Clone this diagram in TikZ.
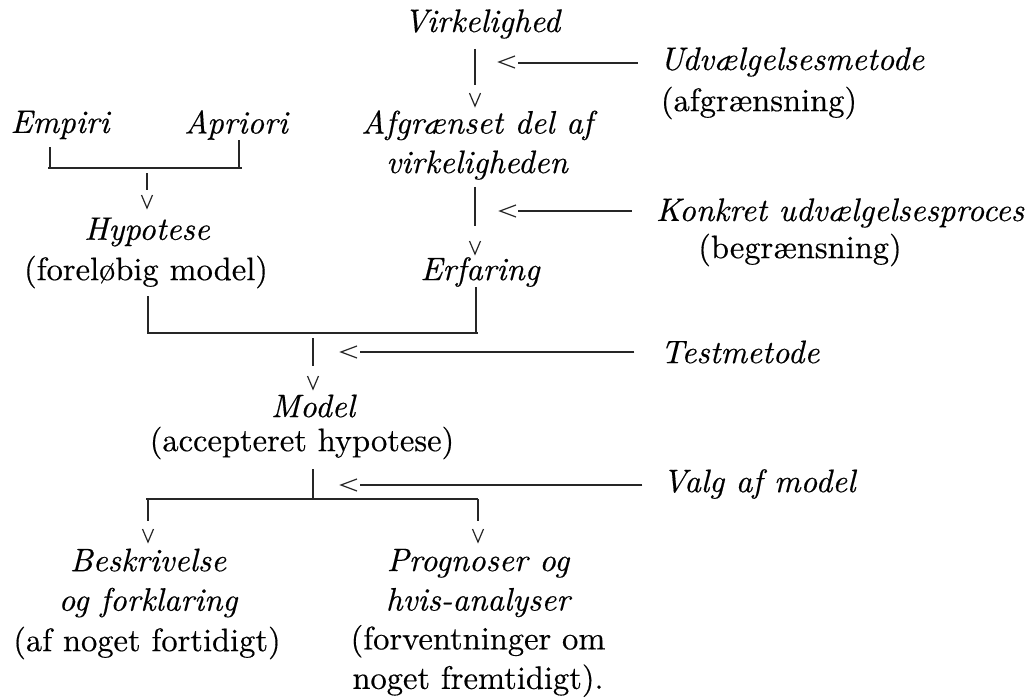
\documentclass[tikz,border=0pt]{standalone}
\usepackage{fontspec}
\setmainfont{lmroman10-regular.otf}[ItalicFont=lmroman10-italic.otf, FakeBold=0.4]
\usetikzlibrary{calc}
\begin{document}
\begin{tikzpicture}[x=1pt,y=-1pt,
  rm/.style={inner sep=0pt, align=center, font=\fontsize{32.5}{39.5}\selectfont},
  it/.style={inner sep=0pt, align=center, font=\fontsize{32.5}{39.5}\selectfont\itshape},
  ln/.style={line width=1.2pt, black!85},
  br/.style={line width=1.5pt, black!85},
  hd/.style={line width=1.2pt, black!85}]
\useasboundingbox (0,0) rectangle (1026,699);
\fill[white] (0,0) rectangle (1026,699);
% texts
\node[it] (virk) at (482,24) {Virkelighed};
\node[it] (udv) at (792,62) {Udvælgelsesmetode};
\node[rm] (afgr) at (759,103) {(afgrænsning)};
\node[it] (emp) at (60,125) {Empiri};
\node[it] (apr) at (236,125) {Apriori};
\node[it] (afg) at (477,145) {Afgrænset del af\\virkeligheden};
\node[it] (konk) at (840,213) {Konkret udvælgelsesproces};
\node[rm] (begr) at (800,250) {(begrænsning)};
\node[it] (hyp) at (147,232) {Hypotese};
\node[rm] (hypn) at (146,272) {(foreløbig model)};
\node[it] (erf) at (480,272) {Erfaring};
\node[it] (test) at (740,352) {Testmetode};
\node[it] (model) at (313,406) {Model};
\node[rm] (acc) at (302,443) {(accepteret hypotese)};
\node[it] (valg) at (759,484) {Valg af model};
\node[it] (besk) at (148,583) {Beskrivelse\\og forklaring};
\node[rm] (beskn) at (147,643) {(af noget fortidigt)};
\node[it] (prog) at (478,583) {Prognoser og\\hvis-analyser};
\node[rm] (progn) at (478,661) {(forventninger om\\noget fremtidigt).};

% arrow Virkelighed -> Afgraenset
\draw[ln] (virk.south -| 475,0) ++(0,10) -- (475,85);
\coordinate (t1) at (afg.north -| 475,0);
\draw[hd] (t1) ++(0,-4) coordinate (t1) +(-5.5,-13) -- (t1) -- +(5.5,-13);
% side arrow Udvaelgelsesmetode
\coordinate (s1) at (499,62);
\draw[ln] (udv.west |- 0,63) ++(-22,0) -- (518,63);
\draw[hd] (s1) +(16,-6) -- (s1) -- +(16,6);

% bracket Empiri / Apriori -> Hypotese
\draw[br] (emp.south -| 50,0) ++(0,8) -- (50,168) -- (239,168) -- (apr.south -| 239,0) ++(0,8);
\draw[br] (48,168) -- (242,168);
\draw[ln] (hyp.north |- 0,173) -- (hyp.north |- 0,190);
\coordinate (t2) at (hyp.north |- 0,208);
\draw[hd] (t2) +(-5.5,-13) -- (t2) -- +(5.5,-13);

% arrow Afgraenset -> Erfaring
\draw[ln] (afg.south -| 475,0) ++(0,7) -- (475,226);
\coordinate (t3) at (erf.north -| 475,0);
\draw[hd] (t3) ++(0,-3) coordinate (t3) +(-5.5,-13) -- (t3) -- +(5.5,-13);
% side arrow Konkret
\coordinate (s2) at (500,211);
\draw[ln] (konk.west |- 0,211) ++(-24,0) -- (518,211);
\draw[hd] (s2) +(16,-6) -- (s2) -- +(16,6);

% bracket Hypotese / Erfaring -> Model
\draw[br] (hypn.south -| 148,0) ++(0,8) -- (148,333) -- (476,333) -- (erf.south -| 476,0) ++(0,8);
\draw[br] (147,333) -- (478,333);
\draw[ln] (model.north |- 0,338) -- (model.north |- 0,366);
\coordinate (t4) at (model.north |- 0,389);
\draw[hd] (t4) +(-5.5,-13) -- (t4) -- +(5.5,-13);
% side arrow Testmetode
\coordinate (s3) at (341,352);
\draw[ln] (test.west |- 0,352) ++(-26,0) -- (360,352);
\draw[hd] (s3) +(16,-6) -- (s3) -- +(16,6);

% Model -> outputs
\draw[ln] (acc.south -| model.south) ++(0,10) -- (313,498);
\draw[br] (146,499) -- (478,499);
\draw[ln] (148,499) -- (148,521);
\draw[ln] (478,499) -- (478,521);
\coordinate (t5) at (besk.north |- 0,542);
\coordinate (t6) at (prog.north |- 0,542);
\draw[hd] (t5) +(-5.5,-13) -- (t5) -- +(5.5,-13);
\draw[hd] (t6) +(-5.5,-13) -- (t6) -- +(5.5,-13);
% side arrow Valg af model
\coordinate (s4) at (341,485);
\draw[ln] (valg.west |- 0,485) ++(-20,0) -- (360,485);
\draw[hd] (s4) +(16,-6) -- (s4) -- +(16,6);
\end{tikzpicture}
\end{document}
